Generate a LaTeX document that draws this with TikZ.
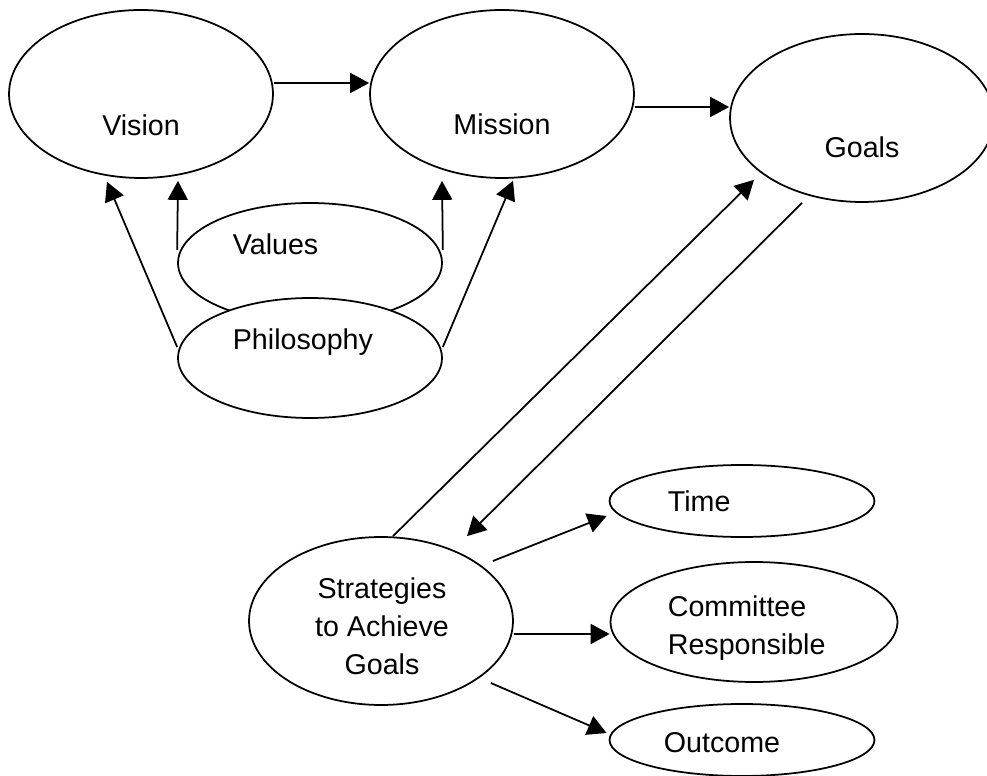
\documentclass[tikz,border=0pt]{standalone}
\usepackage{fontspec}
\setmainfont{Liberation Sans}
\usetikzlibrary{shapes, arrows.meta}

\begin{document}
\begin{tikzpicture}[x=0.02cm, y=-0.02cm, line width=1pt, >={Triangle[length=0.38cm,width=0.4cm]},
        bigoval/.style={ellipse, draw, fill=white, inner sep=0pt, minimum width=5.28cm, minimum height=3.36cm},
        midoval/.style={ellipse, draw, fill=white, inner sep=0pt, minimum width=5.28cm, minimum height=2.4cm},
        flatoval/.style={ellipse, draw, fill=white, inner sep=0pt, minimum width=5.3cm, minimum height=1.44cm},
        lbl/.style={font=\fontsize{16.3}{21.5}\selectfont, inner sep=0pt}]
        \clip (0,0) rectangle (987,776);

        \node at (141,94) [bigoval] (vision) {};
        \node at (141,136) [lbl, anchor=base] (vision_lbl) {Vision};

        \node at (502,94) [bigoval] (mission) {};
        \node at (502,135) [lbl, anchor=base] (mission_lbl) {Mission};

        \node at (862,118) [bigoval] (goals) {};
        \node at (862,158) [lbl, anchor=base] (goals_lbl) {Goals};

        \node at (310,263) [midoval] (values) {};
        \node at (232,255) [lbl, anchor=base west] (values_lbl) {Values};

        \node at (310,358) [midoval] (philosophy) {};
        \node at (232,350) [lbl, anchor=base west] (philosophy_lbl) {Philosophy};

        \node at (381,621) [bigoval] (strategies) {};
        \node at (382,626) [lbl, align=center] (strategies_lbl) {Strategies\\to Achieve\\Goals};

        \node at (742,501) [flatoval] (time) {};
        \node at (667,512) [lbl, anchor=base west] (time_lbl) {Time};

        \node at (754,622) [midoval, minimum width=5.74cm] (committee) {};
        \node at (667,628) [lbl, anchor=west, align=left] (committee_lbl) {Committee\\Responsible};

        \node at (742,740) [flatoval] (outcome) {};
        \node at (663,752) [lbl, anchor=base west] (outcome_lbl) {Outcome};

        \draw   ([yshift=0.22cm]vision.east)        edge[->]    ([yshift=0.22cm]mission.west)
                ([yshift=-0.26cm]mission.east)      edge[->]    ([yshift=0.22cm]goals.west)
                ([yshift=0.26cm]values.west)        edge[->]    ([xshift=0.74cm, yshift=-0.04cm]vision.south)
                ([yshift=0.26cm]values.east)        edge[->]    ([xshift=-1.2cm, yshift=-0.04cm]mission.south)
                ([yshift=0.22cm]philosophy.west)    edge[->]    ([xshift=-0.68cm, yshift=-0.06cm]vision.south)
                ([yshift=0.22cm]philosophy.east)    edge[->]    ([xshift=0.22cm, yshift=-0.04cm]mission.south)
                ([xshift=0.24cm]strategies.north)   edge[->]    ([xshift=-2.16cm, yshift=0.46cm]goals.south)
                ([xshift=-1.2cm]goals.south)        edge[->]    ([xshift=1.72cm]strategies.north)
                ([xshift=-0.42cm, yshift=1.2cm]strategies.east)     edge[->]    ([xshift=-0.04cm, yshift=-0.3cm]time.west)
                ([yshift=-0.26cm]strategies.east)                   edge[->]    ([yshift=-0.24cm]committee.west)
                ([xshift=-0.46cm, yshift=-1.24cm]strategies.east)   edge[->]    ([xshift=-0.04cm, yshift=0.14cm]outcome.west)
            ;
    \end{tikzpicture}
\end{document}
